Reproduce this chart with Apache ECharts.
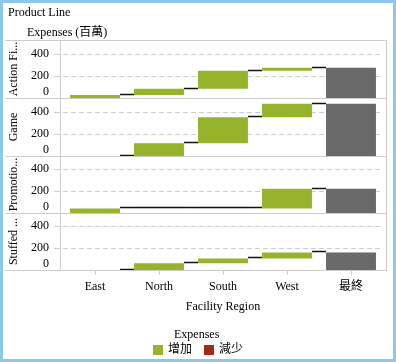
<!DOCTYPE html>
<html>
<head>
<meta charset="utf-8">
<script src="https://cdn.jsdelivr.net/npm/echarts@6/dist/echarts.min.js"></script>
<style>
html,body{margin:0;padding:0;background:#fff;}
#c{width:396px;height:362px;}
</style>
</head>
<body>
<div id="c"></div>
<script>
// ---- data ----
const categories = ['East', 'North', 'South', 'West', '最終'];
const panelNames = ['Action Fi...', 'Game', 'Promotio...', 'Stuffed ...'];
const actionFiguresInc = [28, 57, 163, 28];
const gameInc = [0, 115, 237, 123];
const promotionalInc = [42, 0, 0, 179];
const stuffedInc = [0, 62, 43, 55];
const yTickInterval = 200;
const legendNames = ['增加', '減少'];

const panelData = [actionFiguresInc, gameInc, promotionalInc, stuffedInc];

// ---- layout/style ----
const FONT = '"Liberation Serif", "Noto Sans CJK TC", serif';
const GREEN = '#96b42b', RED = '#a3291a', GRAY = '#696969';
const FRAME = '#cdcdcd';
const plotLeft = 63, plotWidth = 320;
const tops = [40, 98, 156, 213];
const heights = [58, 58, 57, 57];
const pxPer200 = 22;
const BAR_RATIO = 50 / 64;

const grids = [], xAxes = [], yAxes = [], series = [];

panelData.forEach((inc, k) => {
  const cum = [];
  let run = 0;
  inc.forEach(v => { run += v; cum.push(run); });
  const base = [], up = [], total = [];
  inc.forEach((v, i) => { base.push(i === 0 ? 0 : cum[i - 1]); up.push(v); total.push('-'); });
  base.push(0); up.push('-'); total.push(run);
  const last = k === panelData.length - 1;

  grids.push({ left: plotLeft, top: tops[k], width: plotWidth, height: heights[k] });
  xAxes.push({
    type: 'category', gridIndex: k, data: categories,
    axisLine: { show: false },
    axisTick: { show: last, alignWithLabel: true, length: 5, lineStyle: { color: FRAME } },
    axisLabel: { show: last, margin: 11, fontSize: 12, color: '#000', fontFamily: FONT },
    name: last ? 'Facility Region' : '', nameLocation: 'middle', nameGap: 31,
    nameTextStyle: { fontSize: 12, color: '#000', fontFamily: FONT }
  });
  yAxes.push({
    type: 'value', gridIndex: k, min: 0, max: heights[k] / pxPer200 * 200, interval: yTickInterval,
    offset: 3,
    axisLine: { show: false },
    axisTick: { show: true, length: 6, lineStyle: { color: FRAME } },
    axisLabel: { showMaxLabel: false, margin: 11, fontSize: 12, color: '#000', fontFamily: FONT, verticalAlignMinLabel: 'bottom' },
    splitLine: { show: true, showMaxLine: false, lineStyle: { color: FRAME, type: [5, 3] } },
    name: panelNames[k], nameLocation: 'middle', nameRotate: 90, nameGap: 37,
    nameTextStyle: { fontSize: 12, color: '#000', fontFamily: FONT }
  });
  series.push({
    type: 'bar', xAxisIndex: k, yAxisIndex: k, stack: 's' + k, barWidth: '78%',
    itemStyle: { color: 'transparent' }, data: base, silent: true
  });
  series.push({
    name: legendNames[0], type: 'bar', xAxisIndex: k, yAxisIndex: k, stack: 's' + k, barWidth: '78%',
    itemStyle: { color: GREEN }, data: up
  });
  series.push({
    type: 'bar', xAxisIndex: k, yAxisIndex: k, stack: 's' + k, barWidth: '78%',
    itemStyle: { color: GRAY }, data: total
  });
  if (k === 0) {
    series.push({
      name: legendNames[1], type: 'bar', xAxisIndex: k, yAxisIndex: k, stack: 's' + k, barWidth: '78%',
      itemStyle: { color: RED }, data: []
    });
  }
  const conn = inc.map((v, i) => [i, cum[i], (v === 0 && i > 0) ? 1 : 0]);
  series.push({
    type: 'custom', xAxisIndex: k, yAxisIndex: k, data: conn, z: 5,
    renderItem: function (params, api) {
      const i = api.value(0), lvl = api.value(1), zero = api.value(2);
      const p = api.coord([i, lvl]);
      const pn = api.coord([i + 1, lvl]);
      const band = api.size([1, 0])[0];
      const half = band * BAR_RATIO / 2;
      const y = Math.round(p[1]) - 0.5;
      const children = [{
        type: 'line', shape: { x1: p[0] + half, y1: y, x2: pn[0] - half, y2: y },
        style: { stroke: '#111', lineWidth: 1.5 }
      }];
      if (zero) {
        children.push({
          type: 'line', shape: { x1: p[0] - half, y1: y, x2: p[0] + half, y2: y },
          style: { stroke: '#111', lineWidth: 1.5 }
        });
      }
      return { type: 'group', children: children };
    }
  });
});

// frame lines
const frameEls = [];
const hY = [40, 98, 156, 213, 270];
hY.forEach(y => frameEls.push({ type: 'line', shape: { x1: 5, y1: y + 0.5, x2: 386.5, y2: y + 0.5 }, style: { stroke: FRAME, lineWidth: 1 }, z: 10 }));
[60, 386].forEach(x => frameEls.push({ type: 'line', shape: { x1: x + 0.5, y1: 40, x2: x + 0.5, y2: 271 }, style: { stroke: FRAME, lineWidth: 1 }, z: 10 }));
frameEls.push({ type: 'rect', shape: { x: 1.5, y: 1.5, width: 393, height: 359 }, style: { fill: 'none', stroke: '#8ec8e8', lineWidth: 3 }, z: 20 });

const chart = echarts.init(document.getElementById('c'), null, { renderer: 'canvas' });
chart.setOption({
  animation: false,
  textStyle: { fontFamily: FONT },
  title: [
    { text: 'Product Line', left: 3, top: 2, textStyle: { fontSize: 12, fontWeight: 'normal', color: '#000', fontFamily: FONT } },
    { text: 'Expenses (百萬)', left: 22, top: 22, textStyle: { fontSize: 12, fontWeight: 'normal', color: '#000', fontFamily: FONT } },
    { text: 'Expenses', left: 169, top: 324, textStyle: { fontSize: 12, fontWeight: 'normal', color: '#000', fontFamily: FONT } }
  ],
  legend: {
    data: legendNames, left: 153, top: 344, itemWidth: 10, itemHeight: 10, itemGap: 12, icon: 'rect',
    textStyle: { fontSize: 12, color: '#000', fontFamily: FONT }, padding: 0
  },
  grid: grids, xAxis: xAxes, yAxis: yAxes, series: series,
  graphic: frameEls
});
</script>
</body>
</html>
